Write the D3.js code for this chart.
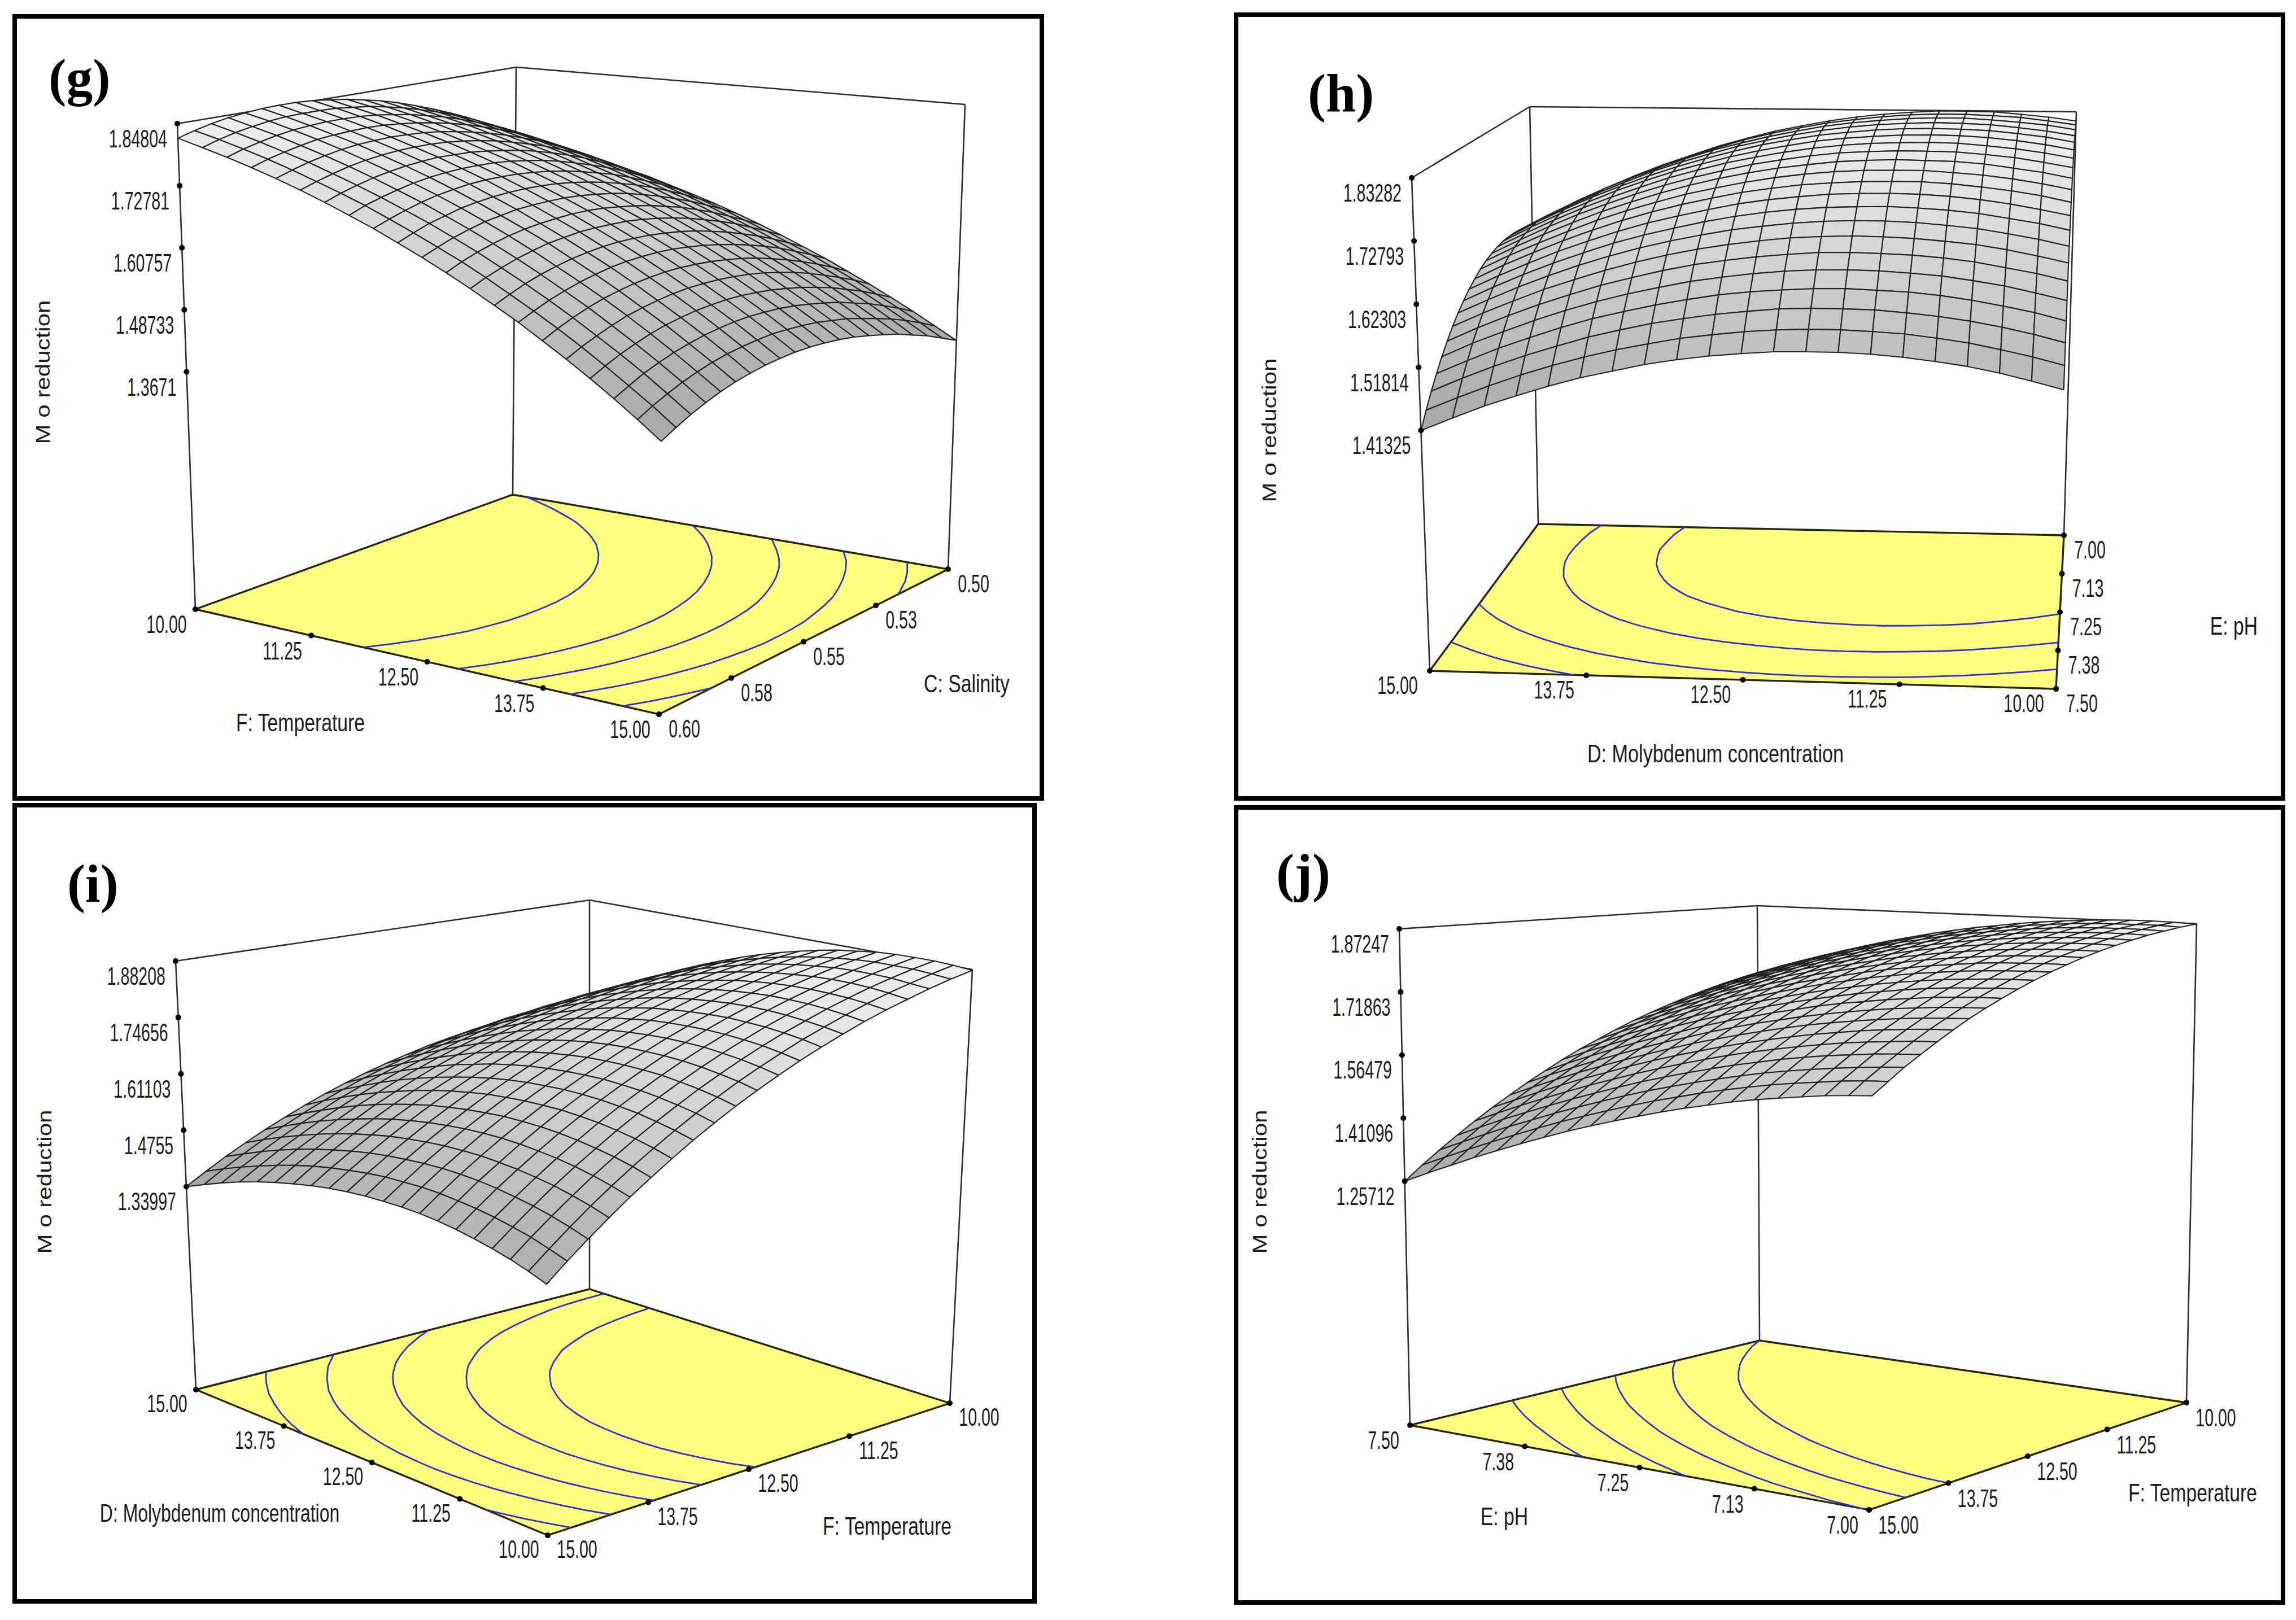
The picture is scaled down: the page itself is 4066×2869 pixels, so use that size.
<!DOCTYPE html>
<html>
<head>
<meta charset="utf-8">
<script src="https://cdn.jsdelivr.net/npm/d3@7"></script>
<style>
  html, body { margin: 0; padding: 0; background: #fff; }
  svg { display: block; }
</style>
</head>
<body>
<script>
// tick labels
var temperatureG = ['10.00', '11.25', '12.50', '13.75', '15.00'];
var salinityG = ['0.60', '0.58', '0.55', '0.53', '0.50'];
var zTicksG = ['1.84804', '1.72781', '1.60757', '1.48733', '1.3671'];
var molybdenumH = ['15.00', '13.75', '12.50', '11.25', '10.00'];
var phH = ['7.50', '7.38', '7.25', '7.13', '7.00'];
var zTicksH = ['1.83282', '1.72793', '1.62303', '1.51814', '1.41325'];
var molybdenumI = ['15.00', '13.75', '12.50', '11.25', '10.00'];
var temperatureI = ['15.00', '13.75', '12.50', '11.25', '10.00'];
var zTicksI = ['1.88208', '1.74656', '1.61103', '1.4755', '1.33997'];
var phJ = ['7.50', '7.38', '7.25', '7.13', '7.00'];
var temperatureJ = ['15.00', '13.75', '12.50', '11.25', '10.00'];
var zTicksJ = ['1.87247', '1.71863', '1.56479', '1.41096', '1.25712'];

// contour levels on the floor
var levelsG = [1.415, 1.48, 1.545, 1.605, 1.695];
var levelsH = [1.50, 1.578, 1.665, 1.735];
var levelsI = [1.43, 1.50, 1.57, 1.64, 1.71];
var levelsJ = [1.43, 1.50, 1.565, 1.625, 1.686];

// surface heights, one row per step along the first axis
var surfaceG = [
[1.820,1.829,1.837,1.843,1.847,1.850,1.851,1.851,1.849,1.845,1.840,1.833,1.825,1.815,1.803,1.790,1.775,1.759,1.741,1.721,1.700],
[1.805,1.815,1.823,1.829,1.834,1.837,1.838,1.838,1.837,1.833,1.829,1.822,1.814,1.804,1.793,1.780,1.766,1.749,1.732,1.712,1.692],
[1.790,1.800,1.808,1.815,1.820,1.823,1.825,1.825,1.824,1.821,1.816,1.810,1.802,1.793,1.782,1.769,1.755,1.739,1.722,1.703,1.682],
[1.774,1.784,1.792,1.799,1.805,1.808,1.810,1.811,1.810,1.807,1.803,1.797,1.790,1.781,1.770,1.758,1.744,1.728,1.711,1.692,1.672],
[1.757,1.767,1.776,1.783,1.789,1.793,1.795,1.796,1.795,1.793,1.789,1.783,1.776,1.767,1.757,1.745,1.732,1.716,1.700,1.681,1.661],
[1.739,1.749,1.758,1.766,1.772,1.776,1.779,1.780,1.780,1.778,1.774,1.769,1.762,1.753,1.743,1.732,1.718,1.704,1.687,1.669,1.649],
[1.720,1.731,1.740,1.748,1.754,1.759,1.762,1.764,1.763,1.762,1.758,1.753,1.747,1.739,1.729,1.718,1.705,1.690,1.674,1.656,1.637],
[1.700,1.712,1.721,1.729,1.736,1.741,1.744,1.746,1.746,1.745,1.742,1.737,1.731,1.723,1.713,1.702,1.690,1.676,1.660,1.642,1.623],
[1.680,1.691,1.701,1.710,1.717,1.722,1.726,1.728,1.728,1.727,1.724,1.720,1.714,1.706,1.697,1.687,1.674,1.660,1.645,1.628,1.609],
[1.658,1.670,1.681,1.689,1.697,1.702,1.706,1.708,1.709,1.708,1.706,1.702,1.696,1.689,1.680,1.670,1.658,1.644,1.629,1.612,1.594],
[1.636,1.648,1.659,1.668,1.676,1.681,1.686,1.688,1.689,1.689,1.687,1.683,1.678,1.671,1.662,1.652,1.640,1.627,1.612,1.596,1.578],
[1.613,1.626,1.637,1.646,1.654,1.660,1.664,1.667,1.669,1.669,1.667,1.663,1.658,1.652,1.643,1.634,1.622,1.609,1.594,1.578,1.561],
[1.589,1.602,1.613,1.623,1.631,1.638,1.642,1.646,1.647,1.647,1.646,1.643,1.638,1.632,1.624,1.614,1.603,1.591,1.576,1.560,1.543],
[1.564,1.577,1.589,1.599,1.607,1.614,1.619,1.623,1.625,1.625,1.624,1.621,1.617,1.611,1.603,1.594,1.583,1.571,1.557,1.541,1.524],
[1.539,1.552,1.564,1.574,1.583,1.590,1.596,1.600,1.602,1.603,1.602,1.599,1.595,1.589,1.582,1.573,1.563,1.551,1.537,1.522,1.505],
[1.512,1.526,1.538,1.549,1.558,1.565,1.571,1.575,1.578,1.579,1.578,1.576,1.572,1.567,1.560,1.551,1.541,1.529,1.516,1.501,1.484],
[1.485,1.499,1.511,1.522,1.532,1.539,1.545,1.550,1.553,1.554,1.554,1.552,1.549,1.544,1.537,1.529,1.519,1.507,1.494,1.480,1.463],
[1.457,1.471,1.484,1.495,1.505,1.513,1.519,1.524,1.527,1.529,1.529,1.527,1.524,1.519,1.513,1.505,1.496,1.484,1.472,1.457,1.441],
[1.428,1.442,1.456,1.467,1.477,1.485,1.492,1.497,1.501,1.503,1.503,1.502,1.499,1.494,1.488,1.481,1.471,1.461,1.448,1.434,1.418],
[1.398,1.413,1.426,1.438,1.448,1.457,1.464,1.469,1.473,1.476,1.476,1.475,1.473,1.468,1.463,1.455,1.446,1.436,1.424,1.410,1.394],
[1.367,1.382,1.396,1.408,1.419,1.428,1.435,1.441,1.445,1.448,1.449,1.448,1.446,1.442,1.436,1.429,1.421,1.410,1.399,1.385,1.370]
];
var surfaceH = [
[1.413,1.438,1.461,1.482,1.502,1.520,1.537,1.552,1.565,1.577,1.587,1.596,1.603,1.608,1.612,1.614,1.614,1.613,1.610,1.606,1.600],
[1.435,1.460,1.484,1.505,1.526,1.544,1.561,1.576,1.590,1.602,1.613,1.622,1.629,1.634,1.638,1.641,1.642,1.641,1.638,1.634,1.629],
[1.456,1.481,1.505,1.527,1.547,1.566,1.583,1.599,1.613,1.625,1.636,1.645,1.653,1.659,1.663,1.666,1.667,1.666,1.664,1.661,1.655],
[1.474,1.500,1.524,1.546,1.567,1.586,1.604,1.620,1.634,1.647,1.658,1.667,1.675,1.682,1.686,1.689,1.691,1.690,1.689,1.685,1.680],
[1.491,1.517,1.541,1.564,1.585,1.604,1.622,1.639,1.653,1.666,1.678,1.688,1.696,1.702,1.707,1.711,1.712,1.712,1.711,1.708,1.703],
[1.506,1.532,1.557,1.580,1.601,1.621,1.639,1.656,1.671,1.684,1.696,1.706,1.714,1.721,1.726,1.730,1.732,1.733,1.731,1.729,1.724],
[1.518,1.545,1.570,1.593,1.615,1.635,1.654,1.671,1.686,1.700,1.712,1.722,1.731,1.738,1.744,1.748,1.750,1.751,1.750,1.747,1.743],
[1.530,1.556,1.582,1.605,1.627,1.648,1.667,1.684,1.699,1.713,1.726,1.737,1.746,1.753,1.759,1.763,1.766,1.767,1.767,1.764,1.761],
[1.539,1.566,1.591,1.615,1.638,1.659,1.678,1.695,1.711,1.725,1.738,1.749,1.759,1.766,1.773,1.777,1.780,1.782,1.781,1.780,1.776],
[1.546,1.573,1.599,1.624,1.646,1.667,1.687,1.705,1.721,1.736,1.749,1.760,1.770,1.778,1.784,1.789,1.793,1.794,1.794,1.793,1.790],
[1.551,1.579,1.605,1.630,1.653,1.674,1.694,1.712,1.729,1.744,1.757,1.769,1.779,1.787,1.794,1.799,1.803,1.805,1.805,1.804,1.801],
[1.555,1.583,1.610,1.634,1.658,1.679,1.700,1.718,1.735,1.750,1.764,1.776,1.786,1.795,1.802,1.808,1.812,1.814,1.815,1.814,1.811],
[1.556,1.585,1.612,1.637,1.661,1.683,1.703,1.722,1.739,1.755,1.768,1.781,1.792,1.801,1.808,1.814,1.818,1.821,1.822,1.821,1.819],
[1.556,1.585,1.612,1.638,1.662,1.684,1.705,1.724,1.741,1.757,1.771,1.784,1.795,1.804,1.812,1.818,1.823,1.826,1.827,1.827,1.825],
[1.554,1.583,1.611,1.636,1.661,1.683,1.704,1.724,1.742,1.758,1.772,1.785,1.797,1.806,1.814,1.821,1.826,1.829,1.831,1.831,1.829],
[1.550,1.580,1.607,1.634,1.658,1.681,1.702,1.722,1.740,1.757,1.772,1.785,1.796,1.806,1.815,1.822,1.827,1.831,1.833,1.833,1.832],
[1.544,1.574,1.602,1.629,1.654,1.677,1.698,1.718,1.737,1.754,1.769,1.782,1.795,1.805,1.814,1.821,1.826,1.830,1.833,1.833,1.832],
[1.537,1.567,1.595,1.622,1.647,1.671,1.693,1.713,1.732,1.749,1.764,1.778,1.791,1.801,1.810,1.818,1.824,1.828,1.830,1.831,1.831],
[1.527,1.557,1.586,1.613,1.639,1.662,1.685,1.705,1.724,1.742,1.758,1.772,1.784,1.796,1.805,1.813,1.819,1.823,1.826,1.828,1.827],
[1.515,1.546,1.575,1.603,1.628,1.653,1.675,1.696,1.716,1.733,1.750,1.764,1.777,1.788,1.798,1.806,1.813,1.817,1.821,1.822,1.822],
[1.502,1.533,1.562,1.590,1.616,1.641,1.664,1.685,1.705,1.723,1.739,1.754,1.767,1.779,1.789,1.797,1.804,1.809,1.813,1.815,1.815]
];
var surfaceI = [
[1.340,1.367,1.393,1.417,1.440,1.461,1.481,1.500,1.517,1.533,1.547,1.560,1.572,1.582,1.591,1.599,1.605,1.610,1.613,1.615,1.616],
[1.359,1.387,1.413,1.438,1.461,1.483,1.504,1.523,1.541,1.557,1.572,1.586,1.598,1.609,1.618,1.627,1.633,1.639,1.643,1.645,1.646],
[1.377,1.405,1.432,1.457,1.481,1.503,1.525,1.544,1.563,1.580,1.595,1.609,1.622,1.634,1.644,1.652,1.660,1.666,1.670,1.673,1.675],
[1.393,1.421,1.449,1.474,1.499,1.522,1.544,1.564,1.583,1.600,1.616,1.631,1.645,1.657,1.667,1.676,1.684,1.691,1.696,1.699,1.702],
[1.407,1.436,1.464,1.490,1.515,1.539,1.561,1.582,1.601,1.619,1.636,1.651,1.665,1.678,1.689,1.698,1.707,1.714,1.719,1.724,1.726],
[1.419,1.449,1.477,1.504,1.529,1.554,1.576,1.598,1.618,1.636,1.654,1.669,1.684,1.697,1.709,1.719,1.728,1.735,1.741,1.746,1.750],
[1.429,1.460,1.488,1.516,1.542,1.567,1.590,1.612,1.633,1.652,1.669,1.686,1.701,1.714,1.727,1.738,1.747,1.755,1.762,1.767,1.771],
[1.438,1.469,1.498,1.526,1.553,1.578,1.602,1.624,1.645,1.665,1.683,1.700,1.716,1.730,1.743,1.754,1.764,1.773,1.780,1.786,1.790],
[1.445,1.476,1.506,1.535,1.562,1.588,1.612,1.635,1.657,1.677,1.696,1.713,1.729,1.744,1.757,1.769,1.780,1.789,1.797,1.803,1.808],
[1.450,1.482,1.512,1.541,1.569,1.595,1.620,1.644,1.666,1.687,1.706,1.724,1.741,1.756,1.770,1.782,1.793,1.803,1.811,1.818,1.824],
[1.453,1.486,1.516,1.546,1.574,1.601,1.627,1.651,1.674,1.695,1.715,1.733,1.751,1.766,1.781,1.794,1.805,1.816,1.824,1.832,1.838],
[1.454,1.487,1.519,1.549,1.578,1.605,1.631,1.656,1.679,1.701,1.722,1.741,1.758,1.775,1.790,1.803,1.815,1.826,1.836,1.844,1.850],
[1.454,1.488,1.520,1.550,1.580,1.608,1.634,1.659,1.683,1.706,1.727,1.746,1.765,1.781,1.797,1.811,1.824,1.835,1.845,1.854,1.861],
[1.452,1.486,1.519,1.550,1.580,1.608,1.635,1.661,1.685,1.708,1.730,1.750,1.769,1.786,1.802,1.817,1.830,1.842,1.853,1.862,1.870],
[1.448,1.482,1.516,1.547,1.578,1.607,1.635,1.661,1.686,1.709,1.731,1.752,1.771,1.789,1.806,1.821,1.835,1.847,1.858,1.868,1.876],
[1.442,1.477,1.511,1.543,1.574,1.604,1.632,1.659,1.684,1.708,1.731,1.752,1.772,1.791,1.808,1.824,1.838,1.851,1.863,1.873,1.882],
[1.434,1.470,1.504,1.537,1.569,1.599,1.628,1.655,1.681,1.706,1.729,1.751,1.771,1.790,1.808,1.824,1.839,1.853,1.865,1.876,1.885],
[1.425,1.461,1.496,1.530,1.562,1.592,1.622,1.650,1.676,1.701,1.725,1.747,1.768,1.788,1.806,1.823,1.838,1.853,1.865,1.876,1.886],
[1.414,1.451,1.486,1.520,1.553,1.584,1.614,1.642,1.669,1.695,1.719,1.742,1.764,1.784,1.802,1.820,1.836,1.851,1.864,1.876,1.886],
[1.401,1.438,1.474,1.509,1.542,1.574,1.604,1.633,1.661,1.687,1.712,1.735,1.757,1.778,1.797,1.815,1.832,1.847,1.860,1.873,1.884],
[1.386,1.424,1.460,1.495,1.529,1.561,1.592,1.622,1.650,1.677,1.702,1.726,1.749,1.770,1.790,1.809,1.826,1.841,1.856,1.869,1.880]
];
var surfaceJ = [
[1.257,1.290,1.321,1.351,1.380,1.408,1.434,1.460,1.484,1.508,1.530,1.550,1.570,1.589,1.606,1.622,1.637,1.651,1.664,1.676,1.686],
[1.284,1.316,1.347,1.377,1.406,1.433,1.459,1.485,1.509,1.532,1.553,1.574,1.593,1.611,1.629,1.645,1.659,1.673,1.685,1.697,1.707],
[1.309,1.341,1.372,1.402,1.430,1.457,1.483,1.508,1.532,1.554,1.576,1.596,1.615,1.633,1.650,1.666,1.680,1.693,1.705,1.716,1.726],
[1.334,1.365,1.396,1.425,1.453,1.480,1.506,1.530,1.554,1.576,1.597,1.617,1.636,1.653,1.670,1.685,1.699,1.712,1.724,1.735,1.744],
[1.357,1.388,1.418,1.447,1.475,1.502,1.527,1.551,1.575,1.596,1.617,1.637,1.655,1.673,1.689,1.704,1.718,1.730,1.742,1.752,1.761],
[1.379,1.410,1.440,1.468,1.496,1.522,1.547,1.571,1.594,1.616,1.636,1.656,1.674,1.691,1.707,1.721,1.735,1.747,1.758,1.769,1.777],
[1.400,1.431,1.460,1.488,1.515,1.542,1.566,1.590,1.612,1.634,1.654,1.673,1.691,1.708,1.723,1.738,1.751,1.763,1.774,1.783,1.792],
[1.420,1.450,1.479,1.507,1.534,1.560,1.584,1.607,1.630,1.651,1.671,1.689,1.707,1.723,1.738,1.753,1.765,1.777,1.788,1.797,1.805],
[1.438,1.468,1.497,1.525,1.551,1.577,1.601,1.624,1.646,1.666,1.686,1.704,1.722,1.738,1.753,1.766,1.779,1.790,1.801,1.810,1.818],
[1.455,1.485,1.514,1.541,1.567,1.592,1.616,1.639,1.660,1.681,1.700,1.718,1.735,1.751,1.765,1.779,1.791,1.802,1.812,1.821,1.829],
[1.471,1.501,1.529,1.556,1.582,1.607,1.630,1.653,1.674,1.694,1.713,1.731,1.747,1.763,1.777,1.790,1.802,1.813,1.823,1.831,1.839],
[1.486,1.515,1.543,1.570,1.596,1.620,1.643,1.665,1.686,1.706,1.725,1.742,1.759,1.774,1.788,1.801,1.812,1.823,1.832,1.840,1.847],
[1.500,1.529,1.556,1.583,1.608,1.632,1.655,1.677,1.698,1.717,1.735,1.753,1.769,1.783,1.797,1.810,1.821,1.831,1.840,1.848,1.855],
[1.512,1.541,1.568,1.594,1.619,1.643,1.666,1.687,1.708,1.727,1.745,1.762,1.777,1.792,1.805,1.818,1.829,1.838,1.847,1.855,1.861],
[1.524,1.552,1.579,1.605,1.629,1.653,1.675,1.696,1.716,1.735,1.753,1.770,1.785,1.799,1.812,1.824,1.835,1.845,1.853,1.860,1.866],
[1.534,1.562,1.588,1.614,1.638,1.661,1.683,1.704,1.724,1.743,1.760,1.776,1.791,1.805,1.818,1.830,1.840,1.850,1.858,1.865,1.870],
[1.542,1.570,1.596,1.622,1.646,1.669,1.690,1.711,1.730,1.749,1.766,1.782,1.797,1.810,1.822,1.834,1.844,1.853,1.861,1.868,1.873],
[1.550,1.577,1.603,1.628,1.652,1.675,1.696,1.716,1.736,1.754,1.770,1.786,1.801,1.814,1.826,1.837,1.847,1.855,1.863,1.869,1.875],
[1.557,1.584,1.609,1.634,1.657,1.680,1.701,1.721,1.740,1.757,1.774,1.789,1.803,1.816,1.828,1.839,1.848,1.857,1.864,1.870,1.875],
[1.562,1.589,1.614,1.638,1.662,1.684,1.704,1.724,1.743,1.760,1.776,1.791,1.805,1.818,1.829,1.840,1.849,1.857,1.864,1.870,1.874],
[1.566,1.592,1.618,1.641,1.664,1.686,1.707,1.726,1.744,1.761,1.777,1.792,1.805,1.818,1.829,1.839,1.848,1.856,1.862,1.868,1.872]
];

// where each plot box sits on the page: corners are left, front, right, back
var panels = [
  {
    letter: '(g)', letterPos: [86, 169], letterSize: 94,
    frame: [26, 29, 1845, 1414],
    top: [[314, 219], [1175, 276], [1709, 185], [914, 119]],
    floor: [[346, 1079], [1167, 1265], [1679, 1008], [908, 876]],
    floorZ: 0.907, surface: surfaceG, levels: levelsG,
    uTicks: temperatureG, vTicks: salinityG, zTicks: zTicksG,
    uTitle: ['F: Temperature', 532, 1279, 0.75], vTitle: ['C: Salinity', 1712, 1210, 0.75], zTitle: [75, 659],
    uOff: [-51, 26], vOff: [45, 25]
  },
  {
    letter: '(h)', letterPos: [2316, 197], letterSize: 96,
    frame: [2189, 26, 4043, 1414],
    top: [[2500, 315], [3664, 331], [3677, 198], [2709, 189]],
    floor: [[2532, 1188], [3641, 1220], [3655, 948], [2724, 928]],
    floorZ: 1.014, surface: surfaceH, levels: levelsH,
    uTicks: molybdenumH, vTicks: phH, zTicks: zTicksH,
    uTitle: ['D: Molybdenum concentration', 3038, 1334, 0.76], vTitle: ['E: pH', 3956, 1108, 0.75], zTitle: [2247, 762],
    uOff: [-57, 25], vOff: [46, 25]
  },
  {
    letter: '(i)', letterPos: [119, 1597], letterSize: 96,
    frame: [26, 1426, 1832, 2836],
    top: [[311, 1702], [966, 1861], [1722, 1717], [1044, 1594]],
    floor: [[347, 2461], [970, 2719], [1682, 2485], [1044, 2283]],
    floorZ: 0.852, surface: surfaceI, levels: levelsI,
    uTicks: molybdenumI, vTicks: temperatureI, zTicks: zTicksI,
    uTitle: ['D: Molybdenum concentration', 389, 2679, 0.71], vTitle: ['F: Temperature', 1571, 2702, 0.75], zTitle: [78, 2093],
    uOff: [-51, 24], vOff: [52, 24]
  },
  {
    letter: '(j)', letterPos: [2260, 1578], letterSize: 96,
    frame: [2189, 1430, 4043, 2838],
    top: [[2478, 1645], [3317, 1692], [3890, 1636], [3112, 1604]],
    floor: [[2497, 2524], [3310, 2674], [3872, 2484], [3116, 2374]],
    floorZ: 0.662, surface: surfaceJ, levels: levelsJ,
    uTicks: phJ, vTicks: temperatureJ, zTicks: zTicksJ,
    uTitle: ['E: pH', 2664, 2685, 0.75], vTitle: ['F: Temperature', 3883, 2643, 0.75], zTitle: [2230, 2093],
    uOff: [-47, 26], vOff: [52, 26]
  }
];

var svg = d3.select('body').append('svg')
    .attr('width', 4066)
    .attr('height', 2869)
    .attr('viewBox', '0 0 4066 2869');

// unit square to quad, corners in the order (0,0) (1,0) (1,1) (0,1)
function quadMap(q) {
    return function (u, v) {
        var nearX = q[0][0] + (q[1][0] - q[0][0]) * u;
        var nearY = q[0][1] + (q[1][1] - q[0][1]) * u;
        var farX = q[3][0] + (q[2][0] - q[3][0]) * u;
        var farY = q[3][1] + (q[2][1] - q[3][1]) * u;
        return [nearX + (farX - nearX) * v, nearY + (farY - nearY) * v];
    };
}

function drawText(g, str, x, y, xScale, anchor) {
    // the plot labels are tall and narrow in the picture
    return g.append('text')
        .attr('transform', 'translate(' + x + ',' + y + ') scale(' + xScale + ',1)')
        .attr('text-anchor', anchor)
        .attr('font-family', '"Liberation Sans", Arial, sans-serif')
        .attr('font-size', 45)
        .attr('fill', '#1c1c1c')
        .text(str);
}

function drawPanel(p) {
    var g = svg.append('g');
    var n = p.surface.length;
    var floorAt = quadMap(p.floor);
    var topAt = quadMap(p.top);
    var zFlat = d3.merge(p.surface);
    var zTickValues = p.zTicks.map(Number);
    var zTop = d3.max(zTickValues);

    var zScale = d3.scaleLinear().domain([p.floorZ, zTop]).range([0, 1]);
    var rowScale = d3.scaleLinear().domain([0, n - 1]).range([0, 1]);
    var uScale = d3.scalePoint().domain(p.uTicks).range([0, 1]);
    var vScale = d3.scalePoint().domain(p.vTicks).range([0, 1]);
    var shade = d3.scaleLinear()
        .domain([d3.min(zFlat), zTop])
        .range(['#a6a6a6', '#f0f0f0']);

    function project(u, v, z) {
        var a = floorAt(u, v), b = topAt(u, v), w = zScale(z);
        return [a[0] + (b[0] - a[0]) * w, a[1] + (b[1] - a[1]) * w];
    }

    var line = d3.line();

    g.append('rect')
        .attr('x', p.frame[0]).attr('y', p.frame[1])
        .attr('width', p.frame[2] - p.frame[0])
        .attr('height', p.frame[3] - p.frame[1])
        .attr('fill', '#fff').attr('stroke', '#000').attr('stroke-width', 8);

    g.append('text')
        .attr('x', p.letterPos[0]).attr('y', p.letterPos[1])
        .attr('font-family', '"Liberation Serif", "Times New Roman", serif')
        .attr('font-weight', 'bold')
        .attr('font-size', p.letterSize)
        .attr('fill', '#000')
        .text(p.letter);

    // box edges behind the surface
    var boxEdges = [
        [p.top[0], p.floor[0]], [p.top[2], p.floor[2]], [p.top[3], p.floor[3]],
        [p.top[0], p.top[3]], [p.top[3], p.top[2]]
    ];
    g.selectAll('.box').data(boxEdges).enter().append('path')
        .attr('d', line)
        .attr('fill', 'none').attr('stroke', '#2e2e2e').attr('stroke-width', 2.6);

    g.append('path')
        .attr('d', line(p.floor) + 'Z')
        .attr('fill', '#ffff80').attr('stroke', '#26260f').attr('stroke-width', 3.4);

    // contours on the floor, taken from the surface heights
    var contours = d3.contours().size([n, n]).thresholds(p.levels)(zFlat);
    contours.forEach(function (c) {
        c.coordinates.forEach(function (poly) {
            poly.forEach(function (ring) {
                splitRing(ring, n).forEach(function (part) {
                    g.append('path')
                        .attr('d', line(part.map(function (pt) {
                            return floorAt(rowScale(pt[1] - 0.5), rowScale(pt[0] - 0.5));
                        })))
                        .attr('fill', 'none').attr('stroke', '#2f2fd0').attr('stroke-width', 2.8);
                });
            });
        });
    });

    // surface cells, far to near
    var cells = [];
    for (var i = 0; i < n - 1; i++) {
        for (var j = n - 2; j >= 0; j--) {
            cells.push([i, j]);
        }
    }
    g.selectAll('.cell').data(cells).enter().append('path')
        .attr('d', function (c) {
            var i = c[0], j = c[1];
            return line([
                project(rowScale(i), rowScale(j), p.surface[i][j]),
                project(rowScale(i + 1), rowScale(j), p.surface[i + 1][j]),
                project(rowScale(i + 1), rowScale(j + 1), p.surface[i + 1][j + 1]),
                project(rowScale(i), rowScale(j + 1), p.surface[i][j + 1])
            ]) + 'Z';
        })
        .attr('fill', function (c) {
            var s = p.surface;
            var i = c[0], j = c[1];
            return shade((s[i][j] + s[i + 1][j] + s[i + 1][j + 1] + s[i][j + 1]) / 4);
        })
        .attr('stroke', '#222').attr('stroke-width', 2.1)
        .attr('stroke-linejoin', 'round');

    // ticks
    zTickValues.forEach(function (z, k) {
        var pt = project(0, 0, z);
        g.append('circle').attr('cx', pt[0]).attr('cy', pt[1]).attr('r', 5).attr('fill', '#000');
        drawText(g, p.zTicks[k], pt[0] - 18, pt[1] + 42, 0.635, 'end');
    });
    p.uTicks.forEach(function (t) {
        var pt = floorAt(uScale(t), 0);
        g.append('circle').attr('cx', pt[0]).attr('cy', pt[1]).attr('r', 5).attr('fill', '#000');
        drawText(g, t, pt[0] + p.uOff[0], pt[1] + p.uOff[1] + 16, 0.635, 'middle');
    });
    p.vTicks.forEach(function (t) {
        var pt = floorAt(1, vScale(t));
        g.append('circle').attr('cx', pt[0]).attr('cy', pt[1]).attr('r', 5).attr('fill', '#000');
        drawText(g, t, pt[0] + p.vOff[0], pt[1] + p.vOff[1] + 16, 0.635, 'middle');
    });

    drawText(g, p.uTitle[0], p.uTitle[1], p.uTitle[2] + 16, p.uTitle[3], 'middle');
    drawText(g, p.vTitle[0], p.vTitle[1], p.vTitle[2] + 16, p.vTitle[3], 'middle');

    g.append('text')
        .attr('transform', 'translate(' + p.zTitle[0] + ',' + p.zTitle[1] + ') rotate(-90) scale(1.17,1)')
        .attr('dy', '0.35em')
        .attr('text-anchor', 'middle')
        .attr('font-family', '"Liberation Sans", Arial, sans-serif')
        .attr('font-size', 36)
        .attr('fill', '#1c1c1c')
        .text('M o reduction');
}

// d3.contours closes its rings along the grid border, keep only the inner runs
function splitRing(ring, n) {
    var lo = 0.5 - 1e-6, hi = n - 0.5 + 1e-6;
    function inside(pt) {
        return pt[0] >= lo && pt[0] <= hi && pt[1] >= lo && pt[1] <= hi;
    }
    var pts = ring.slice(0, ring.length - 1);
    var start = -1;
    for (var k = 0; k < pts.length; k++) {
        if (!inside(pts[k])) { start = k; break; }
    }
    if (start < 0) return [ring];
    var parts = [], cur = [];
    for (var m = 0; m < pts.length; m++) {
        var pt = pts[(start + m) % pts.length];
        if (inside(pt)) {
            cur.push(pt);
        } else {
            if (cur.length > 1) parts.push(cur);
            cur = [];
        }
    }
    if (cur.length > 1) parts.push(cur);
    return parts;
}

panels.forEach(drawPanel);
</script>
</body>
</html>
